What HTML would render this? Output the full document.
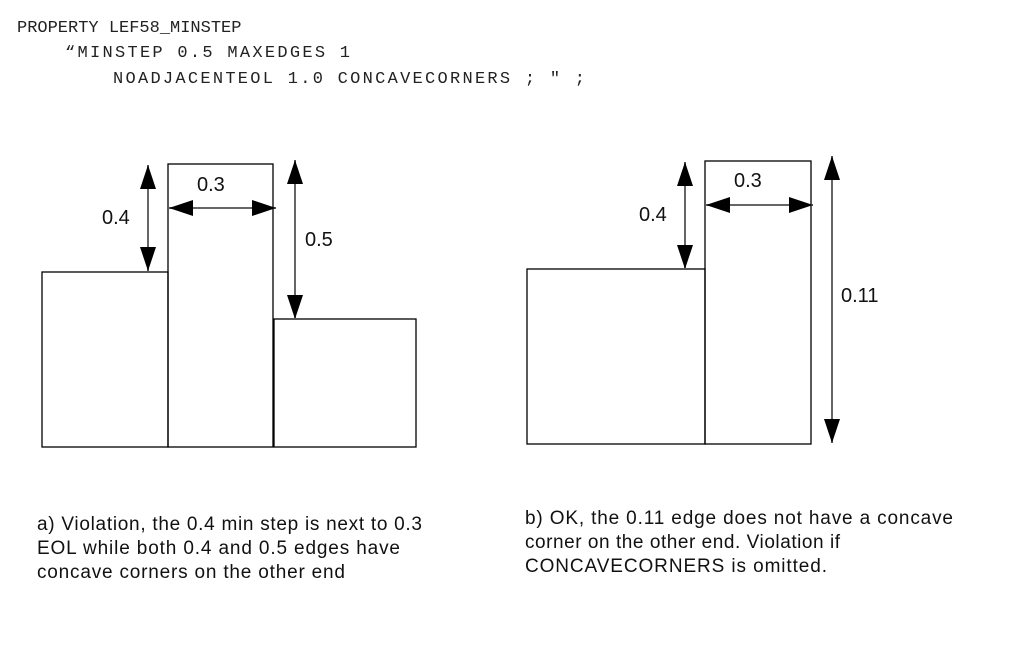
<!DOCTYPE html>
<html><head><style>
body{margin:0;background:#fff;}
svg{display:block}
</style></head><body>
<svg width="1013" height="659" xmlns="http://www.w3.org/2000/svg">
<defs>
<marker id="b" viewBox="0 0 24 16" refX="24" refY="8" markerWidth="24" markerHeight="16" markerUnits="userSpaceOnUse" orient="auto-start-reverse"><path d="M0,0 L24,8 L0,16z" fill="#000"/></marker>
</defs>
<g font-family="Liberation Mono, monospace" font-size="17" fill="#222">
<text x="17" y="32">PROPERTY LEF58_MINSTEP</text>
<text x="65" y="57" textLength="285" lengthAdjust="spacing">“MINSTEP 0.5 MAXEDGES 1</text>
<text x="113" y="83" textLength="472" lengthAdjust="spacing">NOADJACENTEOL 1.0 CONCAVECORNERS ; " ;</text>
</g>
<g fill="none" stroke="#000" stroke-width="1.3">
<rect x="42" y="272" width="126" height="175"/>
<rect x="168" y="164" width="105" height="283"/>
<rect x="274" y="319" width="142" height="128"/>
<rect x="527" y="269" width="178" height="175"/>
<rect x="705" y="161" width="106" height="283"/>
</g>
<g stroke="#666" stroke-width="2" marker-start="url(#b)" marker-end="url(#b)">
<line x1="148" y1="165" x2="148" y2="271"/>
<line x1="169" y1="208" x2="276" y2="208"/>
<line x1="295" y1="160" x2="295" y2="319"/>
<line x1="685" y1="162" x2="685" y2="269"/>
<line x1="706" y1="205" x2="813" y2="205"/>
<line x1="832" y1="156" x2="832" y2="443"/>
</g>
<g font-family="Liberation Sans, sans-serif" font-size="20" fill="#111">
<text x="102" y="224">0.4</text>
<text x="197" y="191">0.3</text>
<text x="305" y="246">0.5</text>
<text x="639" y="221">0.4</text>
<text x="734" y="187">0.3</text>
<text x="841" y="302">0.11</text>
</g>
<g font-family="Liberation Sans, sans-serif" font-size="19" fill="#111">
<text x="37" y="530" textLength="385" lengthAdjust="spacing">a) Violation, the 0.4 min step is next to 0.3</text>
<text x="37" y="554" textLength="363" lengthAdjust="spacing">EOL while both 0.4 and 0.5 edges have</text>
<text x="37" y="578" textLength="308" lengthAdjust="spacing">concave corners on the other end</text>
<text x="525" y="524" textLength="428" lengthAdjust="spacing">b) OK, the 0.11 edge does not have a concave</text>
<text x="525" y="548" textLength="315" lengthAdjust="spacing">corner on the other end.  Violation if</text>
<text x="525" y="572" textLength="302" lengthAdjust="spacing">CONCAVECORNERS is omitted.</text>
</g>
</svg>
</body></html>
